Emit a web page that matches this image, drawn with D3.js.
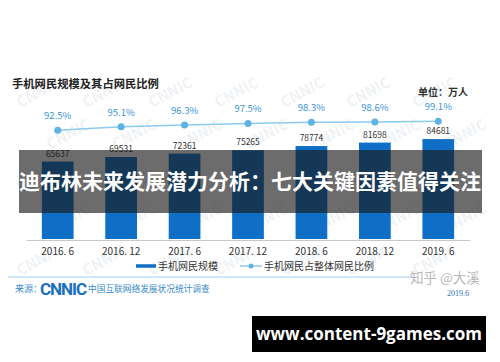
<!DOCTYPE html>
<html>
<head>
<meta charset="utf-8">
<script src="https://cdn.jsdelivr.net/npm/d3@7"></script>
<style>
  body { margin: 0; background: #fff; }
  svg { display: block; font-family: "Noto Sans CJK SC", "Noto Sans", sans-serif; }
</style>
</head>
<body>
<svg id="chart" width="500" height="362"></svg>
<script>
let periods = ['2016. 6', '2016. 12', '2017. 6', '2017. 12', '2018. 6', '2018. 12', '2019. 6'];
let users = [65637, 69531, 72361, 75265, 78774, 81698, 84681];
let shares = [92.5, 95.1, 96.3, 97.5, 98.3, 98.6, 99.1];
let legendNames = ['手机网民规模', '手机网民占整体网民比例'];

let svg = d3.select('#chart');

// faint CNNIC watermarks
let wm = svg.append('g').attr('fill', '#f0f3f6').attr('font-size', 15).attr('font-weight', 'bold');
for (let r = 0; r < 5; r++) {
    for (let c = 0; c < 7; c++) {
        wm.append('text')
          .attr('transform', `translate(${20 + c * 66 + (r % 2) * 30},${108 + r * 42}) rotate(-28)`)
          .text('CNNIC');
    }
}

let x = d3.scaleBand()
          .domain(periods)
          .range([26, 470])
          .paddingInner(0.5)
          .paddingOuter(0.25);
let yBar = d3.scaleLinear().domain([0, 100000]).range([239, 121]);
let yLine = d3.scaleLinear().domain([0, 100]).range([256, 120]);

svg.append('text')
   .attr('x', 12).attr('y', 88)
   .attr('font-size', 11.3).attr('font-weight', 'bold').attr('fill', '#222')
   .text('手机网民规模及其占网民比例');

svg.append('text')
   .attr('x', 418).attr('y', 96)
   .attr('font-size', 10).attr('font-weight', 'bold').attr('fill', '#333')
   .text('单位：万人');

// bars
svg.append('g').selectAll('rect')
   .data(users)
   .enter().append('rect')
   .attr('x', (d, i) => x(periods[i]))
   .attr('width', x.bandwidth())
   .attr('y', d => yBar(d))
   .attr('height', d => yBar(0) - yBar(d))
   .attr('fill', '#0f6fc6');

svg.append('g').selectAll('text')
   .data(users)
   .enter().append('text')
   .attr('x', (d, i) => x(periods[i]) + x.bandwidth() / 2)
   .attr('y', d => yBar(d) - 5)
   .attr('text-anchor', 'middle')
   .attr('font-size', 8.5).attr('fill', '#333')
   .text(d => d);

// axis
let axis = svg.append('g')
              .attr('transform', `translate(0,${yBar(0) + 1})`)
              .call(d3.axisBottom(x).tickSize(0).tickPadding(8));
axis.select('.domain').attr('stroke', '#c8c8c8');
axis.selectAll('text').attr('font-size', 10).attr('fill', '#333')
    .style('font-family', '"Noto Sans CJK SC", sans-serif');

// share line
let line = d3.line()
             .x((d, i) => x(periods[i]) + x.bandwidth() / 2)
             .y(d => yLine(d));
svg.append('path')
   .datum(shares)
   .attr('d', line)
   .attr('fill', 'none')
   .attr('stroke', '#8ccbed')
   .attr('stroke-width', 1.5);
svg.append('g').selectAll('circle')
   .data(shares)
   .enter().append('circle')
   .attr('cx', (d, i) => x(periods[i]) + x.bandwidth() / 2)
   .attr('cy', d => yLine(d))
   .attr('r', 3.5)
   .attr('fill', '#5fb2e4');
svg.append('g').selectAll('text')
   .data(shares)
   .enter().append('text')
   .attr('x', (d, i) => x(periods[i]) + x.bandwidth() / 2)
   .attr('y', d => yLine(d) - 11)
   .attr('text-anchor', 'middle')
   .attr('font-size', 9.5).attr('fill', '#3d95cf')
   .text(d => d.toFixed(1) + '%');

// legend
let lg = svg.append('g');
lg.append('line').attr('x1', 136).attr('x2', 156).attr('y1', 266).attr('y2', 266)
  .attr('stroke', '#0f6fc6').attr('stroke-width', 3.5);
lg.append('text').attr('x', 158).attr('y', 270).attr('font-size', 10).attr('fill', '#333').text(legendNames[0]);
lg.append('line').attr('x1', 240).attr('x2', 262).attr('y1', 266).attr('y2', 266)
  .attr('stroke', '#8ccbed').attr('stroke-width', 1.5);
lg.append('circle').attr('cx', 251).attr('cy', 266).attr('r', 2.5).attr('fill', '#5fb2e4');
lg.append('text').attr('x', 264).attr('y', 270).attr('font-size', 10).attr('fill', '#333').text(legendNames[1]);

// footer
svg.append('line').attr('x1', 8).attr('x2', 412).attr('y1', 277).attr('y2', 277)
   .attr('stroke', '#9fcdea').attr('stroke-width', 1.2);
svg.append('text').attr('x', 15).attr('y', 292).attr('font-size', 9).attr('fill', '#3a8ac8').text('来源：');
svg.append('text').attr('x', 40).attr('y', 295).attr('font-size', 17).attr('font-weight', 'bold')
   .attr('fill', '#1b6fc0').attr('textLength', 47).style('font-family', 'Roboto, sans-serif').text('CNNIC');
svg.append('text').attr('x', 88).attr('y', 292).attr('font-size', 8.7).attr('fill', '#3a8ac8').text('中国互联网络发展状况统计调查');

svg.append('text').attr('x', 410).attr('y', 283).attr('font-size', 13.5).attr('fill', '#b8b8b8').text('知乎 @大溪');
svg.append('text').attr('x', 447).attr('y', 296).attr('font-size', 8).attr('fill', '#2a70b8')
   .style('font-family', '"Liberation Serif", serif').text('2019.6');

// overlay banner
svg.append('rect').attr('x', 19).attr('y', 150).attr('width', 463).attr('height', 63)
   .attr('fill', 'rgba(25,25,25,0.64)');
svg.append('text').attr('x', 250).attr('y', 189).attr('text-anchor', 'middle')
   .attr('font-size', 21).attr('font-weight', 'bold').attr('fill', '#fff')
   .text('迪布林未来发展潜力分析：七大关键因素值得关注');

svg.append('rect').attr('x', 252).attr('y', 316).attr('width', 234).attr('height', 36).attr('fill', '#000');
svg.append('text').attr('x', 369).attr('y', 340).attr('text-anchor', 'middle')
   .attr('font-size', 17).attr('font-weight', 'bold').attr('fill', '#fff')
   .style('font-family', '"Open Sans", "DejaVu Sans", sans-serif')
   .text('www.content-9games.com');
</script>
</body>
</html>
